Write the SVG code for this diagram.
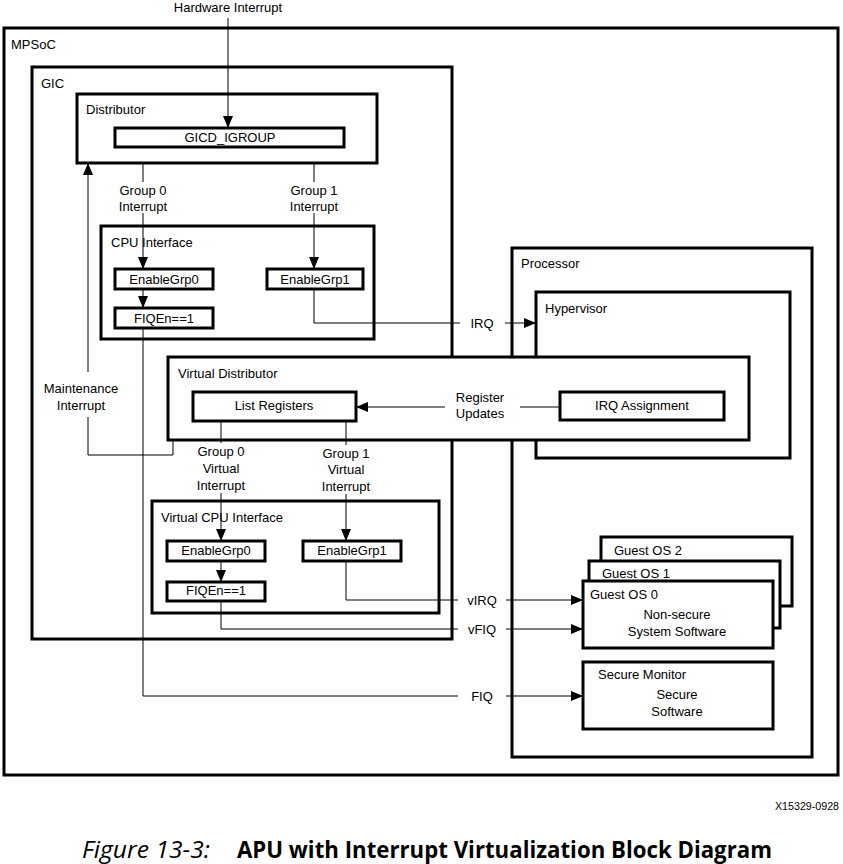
<svg xmlns="http://www.w3.org/2000/svg" width="843" height="864" viewBox="0 0 843 864">
<style>
  .box { fill: none; stroke: #000; stroke-width: 3; }
  .wbox { fill: #fff; stroke: #000; stroke-width: 3; }
  .t { font-family: "Liberation Sans", Arial, sans-serif; font-size: 13px; fill: #000; }
  .c { text-anchor: middle; }
  .ln { fill: none; stroke: #000; stroke-width: 1; }
  .cap { font-family: "Open Sans", "Noto Sans", sans-serif; font-size: 23px; fill: #000; }
</style>
<defs>
  <marker id="ah" viewBox="0 0 12 10" refX="12" refY="5" markerWidth="12" markerHeight="10" markerUnits="userSpaceOnUse" orient="auto">
    <path d="M0,0 L12,5 L0,10 Z" fill="#000"/>
  </marker>
</defs>
<rect width="843" height="864" fill="#fff"/>

<g id="mpsoc">
  <rect class="box" x="4" y="28" width="834" height="747"/>
  <text class="t" x="11" y="49">MPSoC</text>
</g>
<g id="gic">
  <rect class="box" x="32" y="67" width="420" height="572"/>
  <text class="t" x="41" y="88">GIC</text>
</g>
<g id="distributor">
  <rect class="box" x="77" y="94" width="300" height="69"/>
  <text class="t" x="86" y="114">Distributor</text>
</g>
<g id="gicd-igroup">
  <rect class="box" x="115" y="128" width="229" height="19"/>
  <text class="t c" x="230" y="142">GICD_IGROUP</text>
</g>
<g id="cpu-interface">
  <rect class="box" x="101" y="226" width="273" height="113"/>
  <text class="t" x="111" y="247">CPU Interface</text>
</g>
<g id="enablegrp0">
  <rect class="box" x="115" y="269" width="98" height="20"/>
  <text class="t c" x="164" y="284">EnableGrp0</text>
</g>
<g id="enablegrp1">
  <rect class="box" x="267" y="269" width="96" height="20"/>
  <text class="t c" x="315" y="284">EnableGrp1</text>
</g>
<g id="fiqen">
  <rect class="box" x="115" y="308" width="98" height="20"/>
  <text class="t c" x="164" y="323">FIQEn==1</text>
</g>
<g id="processor">
  <rect class="box" x="512" y="248" width="300" height="509"/>
  <text class="t" x="521" y="268">Processor</text>
</g>
<g id="hypervisor">
  <rect class="box" x="536" y="292" width="254" height="166"/>
  <text class="t" x="545" y="313">Hypervisor</text>
</g>
<g id="virtual-distributor">
  <rect class="wbox" x="168" y="357" width="581" height="83"/>
  <text class="t" x="178" y="378">Virtual Distributor</text>
</g>
<g id="list-registers">
  <rect class="box" x="193" y="392" width="163" height="29"/>
  <text class="t c" x="274" y="410">List Registers</text>
</g>
<g id="irq-assignment">
  <rect class="box" x="560" y="392" width="164" height="28"/>
  <text class="t c" x="642" y="410">IRQ Assignment</text>
</g>
<g id="virtual-cpu-interface">
  <rect class="box" x="152" y="501" width="287" height="112"/>
  <text class="t" x="161" y="522">Virtual CPU Interface</text>
</g>
<g id="v-enablegrp0">
  <rect class="box" x="167" y="541" width="98" height="20"/>
  <text class="t c" x="216" y="555">EnableGrp0</text>
</g>
<g id="v-enablegrp1">
  <rect class="box" x="303" y="541" width="98" height="20"/>
  <text class="t c" x="352" y="555">EnableGrp1</text>
</g>
<g id="v-fiqen">
  <rect class="box" x="167" y="582" width="98" height="19"/>
  <text class="t c" x="216" y="595">FIQEn==1</text>
</g>
<g id="guest-os-2">
  <rect class="wbox" x="601" y="537" width="191" height="69"/>
  <text class="t" x="614" y="555">Guest OS 2</text>
</g>
<g id="guest-os-1">
  <rect class="wbox" x="589" y="561" width="191" height="67"/>
  <text class="t" x="602" y="578">Guest OS 1</text>
</g>
<g id="guest-os-0">
  <rect class="wbox" x="583" y="581" width="190" height="67"/>
  <text class="t" x="590" y="599">Guest OS 0</text>
  <text class="t c" x="677" y="619">Non-secure</text>
  <text class="t c" x="677" y="636">System Software</text>
</g>
<g id="secure-monitor">
  <rect class="box" x="583" y="662" width="190" height="67"/>
  <text class="t" x="598" y="679">Secure Monitor</text>
  <text class="t c" x="677" y="699">Secure</text>
  <text class="t c" x="677" y="716">Software</text>
</g>

<g id="connectors">
  <path class="ln" d="M228,18 V128" marker-end="url(#ah)"/>
  <path class="ln" d="M143,163 V182"/>
  <path class="ln" d="M143,213 V269" marker-end="url(#ah)"/>
  <path class="ln" d="M314,163 V182"/>
  <path class="ln" d="M314,213 V269" marker-end="url(#ah)"/>
  <path class="ln" d="M143,289 V308" marker-end="url(#ah)"/>
  <path class="ln" d="M314,289 V323 H460"/>
  <path class="ln" d="M505,323 H536" marker-end="url(#ah)"/>
  <path class="ln" d="M173,440 V455 H88 V417"/>
  <path class="ln" d="M88,372 V163" marker-end="url(#ah)"/>
  <path class="ln" d="M560,407 H520"/>
  <path class="ln" d="M445,407 H356" marker-end="url(#ah)"/>
  <path class="ln" d="M221,421 V443"/>
  <path class="ln" d="M221,493 V541" marker-end="url(#ah)"/>
  <path class="ln" d="M346,421 V445"/>
  <path class="ln" d="M346,494 V541" marker-end="url(#ah)"/>
  <path class="ln" d="M221,561 V582" marker-end="url(#ah)"/>
  <path class="ln" d="M346,561 V600 H458"/>
  <path class="ln" d="M506,600 H583" marker-end="url(#ah)"/>
  <path class="ln" d="M221,601 V629 H458"/>
  <path class="ln" d="M506,629 H583" marker-end="url(#ah)"/>
  <path class="ln" d="M143,328 V696 H458"/>
  <path class="ln" d="M506,696 H583" marker-end="url(#ah)"/>

  <text class="t c" x="228" y="12">Hardware Interrupt</text>
  <text class="t c" x="143" y="195">Group 0</text>
  <text class="t c" x="143" y="211">Interrupt</text>
  <text class="t c" x="314" y="195">Group 1</text>
  <text class="t c" x="314" y="211">Interrupt</text>
  <text class="t c" x="482" y="328">IRQ</text>
  <text class="t c" x="81" y="393">Maintenance</text>
  <text class="t c" x="81" y="410">Interrupt</text>
  <text class="t c" x="480" y="402">Register</text>
  <text class="t c" x="480" y="418">Updates</text>
  <text class="t c" x="221" y="456">Group 0</text>
  <text class="t c" x="221" y="473">Virtual</text>
  <text class="t c" x="221" y="490">Interrupt</text>
  <text class="t c" x="346" y="458">Group 1</text>
  <text class="t c" x="346" y="474">Virtual</text>
  <text class="t c" x="346" y="491">Interrupt</text>
  <text class="t c" x="482" y="605">vIRQ</text>
  <text class="t c" x="482" y="634">vFIQ</text>
  <text class="t c" x="482" y="701">FIQ</text>
</g>

<text class="t" x="775" y="810" style="font-size:10px" textLength="64" lengthAdjust="spacingAndGlyphs">X15329-0928</text>
<text class="cap" x="82" y="858" font-style="italic" textLength="128" lengthAdjust="spacingAndGlyphs">Figure 13-3:</text>
<text class="cap" x="237" y="858" font-weight="bold" textLength="535" lengthAdjust="spacingAndGlyphs">APU with Interrupt Virtualization Block Diagram</text>
</svg>
